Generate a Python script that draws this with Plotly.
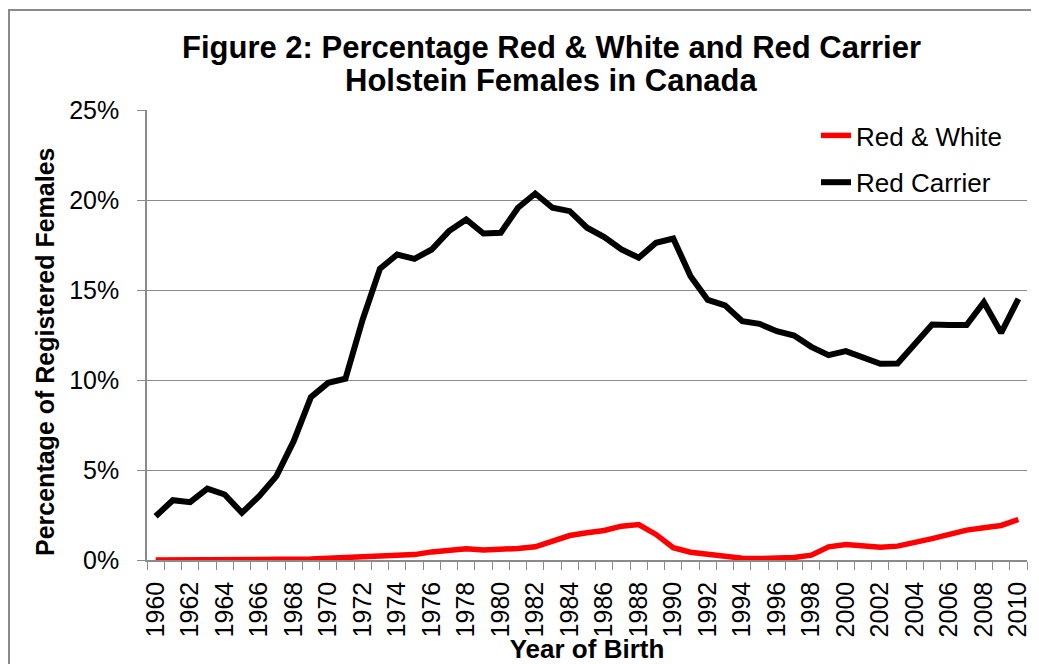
import plotly.graph_objects as go

years = list(range(1960, 2011))

red_carrier = [2.43, 3.32, 3.21, 3.97, 3.64, 2.62, 3.55, 4.66, 6.6, 9.05,
               9.84, 10.07, 13.36, 16.18, 16.97, 16.73, 17.25, 18.27, 18.92, 18.14,
               18.18, 19.57, 20.36, 19.57, 19.38, 18.46, 17.94, 17.25, 16.79, 17.62,
               17.86, 15.77, 14.45, 14.15, 13.27, 13.12, 12.71, 12.47, 11.84, 11.38,
               11.6, 11.23, 10.9, 10.92, 11.97, 13.08, 13.05, 13.05, 14.32, 12.62,
               14.51]

red_white = [0.0, 0.0, 0.0, 0.0, 0.0, 0.0, 0.0, 0.0, 0.0, 0.05,
             0.1, 0.15, 0.2, 0.23, 0.27, 0.3, 0.45, 0.56, 0.62, 0.56,
             0.58, 0.64, 0.73, 1.05, 1.36, 1.51, 1.64, 1.88, 1.97, 1.42,
             0.68, 0.43, 0.3, 0.18, 0.1, 0.08, 0.1, 0.14, 0.27, 0.73,
             0.86, 0.8, 0.71, 0.77, 0.95, 1.19, 1.42, 1.66, 1.79, 1.92,
             2.25]

x_tick_years = list(range(1960, 2011, 2))
x_tick_labels = [str(y) for y in x_tick_years]
y_tick_vals = [0, 5, 10, 15, 20, 25]
y_tick_labels = [f"{v}%" for v in y_tick_vals]

title_lines = ["Figure 2: Percentage Red & White and Red Carrier",
               "Holstein Females in Canada"]
x_title = "<b>Year of Birth</b>"
y_title = "<b>Percentage of Registered Females</b>"

FONT = "Liberation Sans, Arial, sans-serif"
GRID = "#8a8a8a"

# the page body has an 8px margin, so the figure is drawn at (8, 8) on screen
OFF = 8
FIG_W, FIG_H = 1039 - OFF, 664 - OFF
# plot area in screen pixels
PL, PR, PT, PB = 147, 1027, 110, 560

def px_x(px):
    return (px - PL) / (PR - PL)

def px_y(py):
    return (PB - py) / (PB - PT)

fig = go.Figure()
fig.add_trace(go.Scatter(x=years, y=red_white, mode="lines", name="Red & White",
                         line=dict(color="#ff0000", width=5.5), cliponaxis=False,
                         legendgroup="a"))
fig.add_trace(go.Scatter(x=years, y=red_carrier, mode="lines", name="Red Carrier",
                         line=dict(color="#000000", width=6), cliponaxis=False,
                         legendgroup="b"))

fig.update_layout(
    width=FIG_W, height=FIG_H,
    margin=dict(l=PL - OFF, r=FIG_W - (PR - OFF), t=PT - OFF, b=FIG_H - (PB - OFF)),
    paper_bgcolor="white", plot_bgcolor="white",
    font=dict(family=FONT, color="black"),
    showlegend=True,
    legend=dict(x=px_x(816), xanchor="left", y=px_y(112), yanchor="top",
                bgcolor="rgba(0,0,0,0)", font=dict(size=26, family=FONT),
                traceorder="grouped", tracegroupgap=10),
    hovermode=False,
)

for line, cy in zip(title_lines, [47, 80]):
    fig.add_annotation(text=f"<b>{line}</b>", xref="paper", yref="paper",
                       x=px_x(551), y=px_y(cy), xanchor="center", yanchor="middle",
                       showarrow=False, font=dict(size=31, family=FONT, color="black"))

# y-axis title placed as a rotated annotation
fig.add_annotation(text=y_title, xref="paper", yref="paper",
                   x=px_x(45), y=px_y(352), xanchor="center", yanchor="middle",
                   textangle=-90, showarrow=False,
                   font=dict(size=25, family=FONT, color="black"))

fig.update_xaxes(
    range=[1959.5, 2010.5], automargin=False,
    tickmode="array", tickvals=x_tick_years, ticktext=x_tick_labels,
    tickangle=-90, tickfont=dict(size=25, family=FONT), ticklabelstandoff=10,
    ticks="", showgrid=False, zeroline=False,
    showline=True, linecolor=GRID, linewidth=1.5,
    minor=dict(tickmode="array", tickvals=[y - 0.5 for y in range(1960, 2012)],
               ticks="outside", ticklen=8, tickcolor=GRID, tickwidth=1.2, showgrid=False),
    title=dict(text=x_title, font=dict(size=26, family=FONT), standoff=5),
)
fig.update_yaxes(
    range=[0, 25], automargin=False,
    tickmode="array", tickvals=y_tick_vals, ticktext=y_tick_labels,
    tickfont=dict(size=25, family=FONT), ticklabelstandoff=13,
    ticks="outside", ticklen=8, tickcolor=GRID, tickwidth=1.2,
    showgrid=True, gridcolor=GRID, gridwidth=1.2, zeroline=False,
    showline=True, linecolor=GRID, linewidth=1.5,
)

# outer chart border
fig.add_shape(type="rect", xref="paper", yref="paper",
              x0=px_x(9), x1=px_x(1033), y0=px_y(700), y1=px_y(10),
              line=dict(color="#8a8a8a", width=2), fillcolor="rgba(0,0,0,0)", layer="below")

fig.write_html("out.html", config={"displayModeBar": False})
